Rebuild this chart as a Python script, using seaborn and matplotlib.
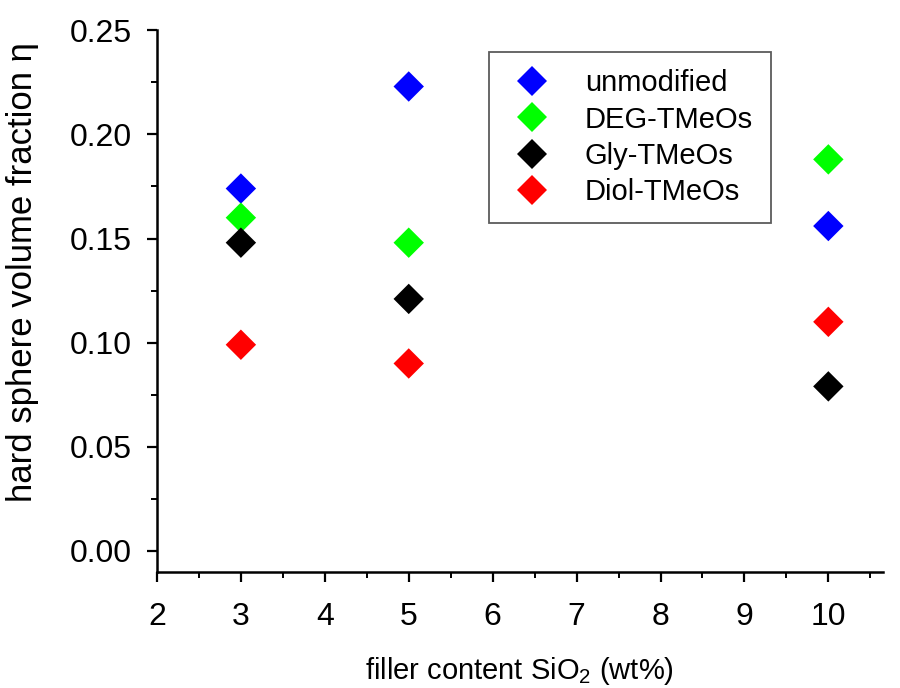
import pandas as pd
import numpy as np
import matplotlib
matplotlib.use('Agg')
import matplotlib.pyplot as plt
import seaborn as sns
from matplotlib.ticker import MultipleLocator, FormatStrFormatter

# 데이터
filler = [3, 5, 10]
unmodified = [0.174, 0.223, 0.156]
deg_tmeos = [0.160, 0.148, 0.188]
gly_tmeos = [0.148, 0.121, 0.079]
diol_tmeos = [0.099, 0.090, 0.110]

series_names = ['unmodified', 'DEG-TMeOs', 'Gly-TMeOs', 'Diol-TMeOs']
series_colors = ['#0000ff', '#00ff00', '#000000', '#ff0000']

df = pd.DataFrame({
    'x': filler * 4,
    'y': unmodified + deg_tmeos + gly_tmeos + diol_tmeos,
    'sample': np.repeat(series_names, len(filler)),
})

sns.set_style('ticks')
plt.rcParams['font.family'] = ['Liberation Sans', 'DejaVu Sans']
plt.rcParams['mathtext.default'] = 'regular'
plt.rcParams['text.color'] = 'black'
plt.rcParams['axes.labelcolor'] = 'black'

fig = plt.figure(figsize=(9, 6.88), dpi=100)
ax = fig.add_axes([0.1744, 0.169, 0.8066, 0.787])

sns.scatterplot(data=df, x='x', y='y', hue='sample', hue_order=series_names,
                palette=series_colors, marker='D', s=240, linewidth=0, ax=ax)

ax.set_xlim(2, 10.65)
ax.set_ylim(-0.010, 0.25)
ax.xaxis.set_major_locator(MultipleLocator(1))
ax.xaxis.set_minor_locator(MultipleLocator(0.5))
ax.yaxis.set_major_locator(MultipleLocator(0.05))
ax.yaxis.set_minor_locator(MultipleLocator(0.025))
ax.yaxis.set_major_formatter(FormatStrFormatter('%.2f'))

for side in ['top', 'right']:
    ax.spines[side].set_visible(False)
for side in ['left', 'bottom']:
    ax.spines[side].set_linewidth(1.8)
    ax.spines[side].set_color('black')

ax.tick_params(which='major', direction='out', length=7, width=1.6, labelsize=23,
               colors='black', labelcolor='black')
ax.tick_params(which='minor', direction='out', length=4, width=1.4, colors='black')
ax.tick_params(axis='x', which='major', pad=15)
ax.tick_params(axis='y', which='major', pad=11)

ax.set_xlabel('filler content SiO$_2$ (wt%)', fontsize=21, labelpad=16)
ax.set_ylabel('hard sphere volume fraction η', fontsize=25)
# 원본처럼 y축 제목이 축 중앙보다 약간 위에 위치
ax.yaxis.set_label_coords(-0.162, 0.553)

leg = ax.legend(loc='upper left', bbox_to_anchor=(0.457, 0.96), frameon=True, fancybox=False,
                fontsize=21, markerscale=1.0, handletextpad=0.9, labelspacing=0.28,
                borderpad=0.6, borderaxespad=0, handlelength=1.8)
leg.get_frame().set_edgecolor('#333333')
leg.get_frame().set_linewidth(1.3)

plt.savefig('out.png', dpi=100)
